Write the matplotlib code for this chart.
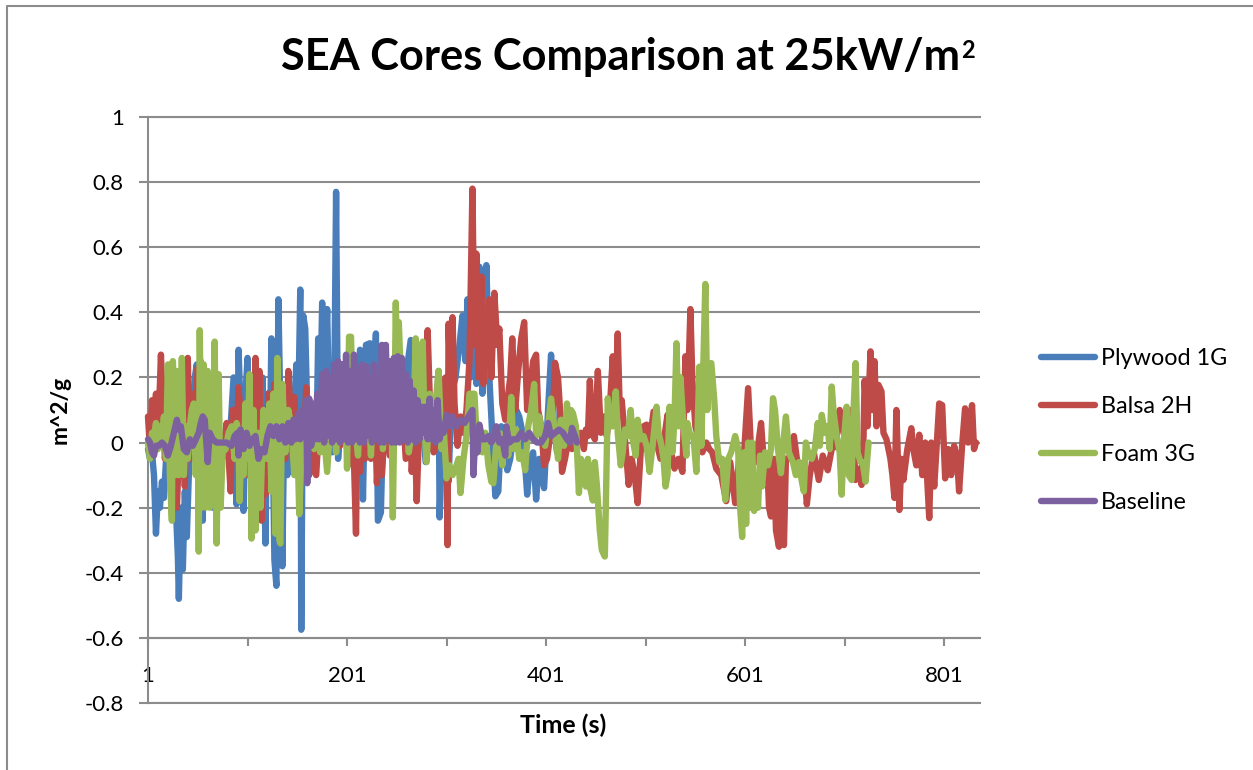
import matplotlib
matplotlib.use("Agg")
import matplotlib.pyplot as plt
from matplotlib.lines import Line2D

W, H = 1253, 770
plt.rcParams['font.family'] = ['Lato', 'DejaVu Sans']

title = "SEA Cores Comparison at 25kW/m"
title_sup = "2"
xlabel = "Time (s)"
ylabel = "m^2/g"
x_ticks = [1, 101, 201, 301, 401, 501, 601, 701, 801]
x_tick_labels = ["1", "", "201", "", "401", "", "601", "", "801"]
y_ticks = [-0.8, -0.6, -0.4, -0.2, 0, 0.2, 0.4, 0.6, 0.8, 1]
y_tick_labels = ["-0.8", "-0.6", "-0.4", "-0.2", "0", "0.2", "0.4", "0.6", "0.8", "1"]
names = ["Plywood 1G", "Balsa 2H", "Foam 3G", "Baseline"]
colors = ["#4A7EBB", "#BE4B48", "#98B954", "#7D60A0"]

plywood_t = [1,3,5,7,9,11,13,15,17,19,
             21,23,25,27,29,31,32,34,36,38,
             40,42,44,46,48,50,52,54,56,58,
             60,63,66,70,74,78,82,85,87,90,
             92,94,97,99,101,103,106,110,113,116,
             119,121,123,125,126,128,130,132,134,136,
             138,141,144,147,150,152,154,155,157,159,
             161,164,167,170,172,174,176,178,181,183,
             186,188,190,192,195,198,201,204,207,210,
             214,217,220,224,227,230,232,235,238,241,
             245,250,255,260,265,268,272,276,280,284,
             288,293,294,297,300,303,306,310,314,317,
             320,322,325,328,331,334,337,339,341,344,
             347,350,353,356,359,362,365,368,371,374,
             378,382,385,388,391,394,399,403,406,409,
             412,415]
plywood_v = [-.02,-.05,-.03,-.1,-.28,-.15,-.2,-.12,-.17,-.06,
             -.08,.05,-.1,.1,-.2,-.35,-.48,-.2,-.39,-.15,
             -.29,-.1,.05,.12,.2,.24,.1,.25,-.24,.22,
             -.1,.15,-.2,.05,-.05,.02,-.05,.1,.2,-.19,
             .285,.1,-.21,.15,.26,-.05,.1,.05,-.1,.2,
             -.31,.15,-.1,.32,.1,-.36,-.44,.44,.1,-.38,
             .1,-.1,.1,.05,.24,.1,.47,-.575,.39,.35,
             .1,.05,.12,-.05,.32,.1,.43,.1,.41,.1,
             -.03,.1,.77,-.05,.1,.03,.2,.1,.25,-.1,
             .285,-.175,.3,.305,.1,.335,-.24,-.215,.15,.05,
             .2,.1,.05,.2,.315,.1,.05,.1,-.06,.05,
             -.01,.22,-.23,.05,.1,-.12,.15,.2,.3,.39,
             .25,.44,.2,.3,.18,.54,.15,.3,.545,.2,
             .02,-.165,-.15,.05,-.02,-.085,-.05,.02,.1,.08,
             .02,-.16,-.05,-.03,-.175,-.05,-.14,.1,.27,.05,
             -.03,0]

balsa_t = [1,3,5,7,9,11,13,14,16,18,
           21,24,27,30,33,36,38,41,43,45,
           48,51,54,57,60,64,68,72,76,80,
           84,86,89,92,95,98,101,105,107,109,
           111,113,115,117,119,122,125,128,131,134,
           137,139,142,145,148,151,155,158,160,163,
           166,170,174,178,182,186,190,194,198,202,
           204,207,210,212,214,217,219,222,225,228,
           231,234,236,240,244,248,252,256,260,264,
           266,269,271,274,277,280,282,285,288,291,
           294,297,300,302,303,305,307,309,312,315,
           318,321,324,327,329,331,333,336,338,341,
           344,346,349,352,354,357,360,363,365,367,
           370,373,376,379,382,385,388,391,393,396,
           399,402,405,408,410,413,415,417,420,424,
           427,430,433,436,439,441,443,445,447,450,
           453,456,459,462,465,468,470,473,475,477,
           480,484,487,490,493,496,499,502,505,509,
           512,516,520,523,526,530,534,538,541,543,
           546,548,551,555,558,562,565,568,572,577,
           582,586,591,595,600,604,607,611,614,617,
           620,623,625,627,630,632,635,637,640,642,
           645,648,650,653,656,660,663,666,670,675,
           679,684,688,692,696,699,703,708,712,716,
           718,720,721,724,727,729,731,733,735,738,
           740,743,747,749,751,753,756,758,760,764,
           768,770,773,776,779,782,786,788,791,796,
           799,802,805,808,811,814,816,819,822,825,
           829,831,833]
balsa_v = [.08,-.02,.13,.05,.15,.02,.18,.27,.1,-.05,
           .08,.02,-.1,-.2,.05,.1,-.135,.26,-.05,.15,
           .05,.23,.1,-.1,.05,-.08,.1,.02,-.03,.06,
           -.15,.1,-.05,.17,.05,.1,-.1,.15,-.2,.26,
           .05,.22,-.24,.1,-.16,.15,.05,.18,-.1,.12,
           .02,-.05,.22,.03,.14,-.03,.08,.02,.17,-.1,
           .05,-.1,.12,.05,-.03,.1,.05,-.01,.15,-.07,
           .25,.05,-.28,.2,-.09,.1,-.05,.15,-.05,.2,
           -.125,.1,-.1,.1,-.04,.1,.05,.15,-.05,.1,
           -.09,.05,-.18,.1,.05,.2,.345,.05,-.03,.03,
           .1,.02,.2,-.315,.365,.15,.385,.12,-.01,.08,
           .03,.1,.25,.78,.3,.58,.2,.51,.18,.32,
           .44,.2,.46,.3,.35,.12,.07,.15,.2,.32,
           .1,.22,.32,.37,.1,.17,.25,.27,.1,.05,
           -.07,-.05,.02,.1,.245,.2,.1,-.09,-.05,.02,
           -.02,.03,.01,.03,-.02,.04,.02,.19,.03,.01,
           .22,.03,.08,.02,.1,.265,.06,.335,.1,.13,
           .02,-.13,-.05,-.1,-.186,-.03,.05,.055,.0,.095,
           .0,-.05,.02,.085,-.02,-.08,-.05,-.09,.265,.1,
           .41,.19,.05,.0,-.03,.0,-.02,-.03,-.08,-.1,
           -.18,-.06,-.186,-.05,-.03,.167,-.03,-.06,-.01,.06,
           -.07,-.05,-.2,-.227,-.05,-.27,-.32,-.08,-.315,-.05,
           -.05,-.02,.02,-.05,-.08,-.06,-.19,-.1,-.03,-.115,
           -.04,-.085,-.02,-.01,.10,.05,-.02,.1,-.115,-.08,
           -.13,.02,.19,.05,.28,.1,.25,.05,.177,.157,
           .03,.01,-.05,-.1,-.17,.10,-.207,-.05,-.115,-.02,
           .044,-.02,-.07,.024,-.10,.0,-.232,.0,-.135,.12,
           .115,-.11,-.02,-.10,-.01,-.05,-.15,-.01,.105,.0,
           .115,-.02,0]

foam_t = [1,3,5,7,9,11,13,15,17,19,
          21,23,25,26,28,30,32,34,35,37,
          39,41,43,45,47,49,51,52,53,55,
          57,59,61,63,65,67,68,70,72,74,
          76,79,82,85,88,90,92,93,95,97,
          99,101,103,105,107,109,111,114,117,120,
          123,125,127,129,131,133,134,136,139,142,
          145,148,151,153,156,159,162,165,168,171,
          174,177,179,181,184,187,190,193,196,199,
          201,203,205,207,209,212,214,217,220,223,
          225,228,231,234,237,240,243,246,247,249,
          250,252,253,255,258,260,263,266,268,270,
          272,274,277,279,281,284,287,290,293,296,
          298,301,304,307,310,313,315,318,321,324,
          326,329,331,334,337,340,343,346,348,351,
          354,357,360,363,366,368,371,374,377,380,
          383,386,389,391,394,397,400,403,406,408,
          410,413,416,419,422,424,426,428,431,434,
          436,438,441,443,445,448,450,452,455,457,
          460,461,463,465,468,471,473,476,478,480,
          483,486,488,491,493,496,499,502,505,508,
          512,514,517,519,521,523,525,528,530,532,
          534,536,538,540,542,543,546,549,552,555,
          557,559,561,563,565,567,570,572,575,578,
          581,584,587,591,594,596,598,600,602,604,
          606,608,610,612,614,616,618,621,624,627,
          629,631,634,637,640,642,645,649,652,655,
          658,660,662,665,668,671,674,676,678,681,
          684,686,688,690,693,696,698,700,703,705,
          708,710,712,714,717,719,722,725]
foam_v = [0,-.05,.03,.02,.06,-.02,.05,.02,.08,-.05,
          .24,-.1,-.24,.25,-.1,.22,-.1,.1,.26,-.1,
          .05,-.05,.05,.1,.12,-.1,.1,-.335,.345,-.2,
          .24,-.2,.22,-.2,.2,-.1,.31,-.31,.21,-.2,
          -.03,-.02,.03,.05,-.05,.06,.03,-.18,.02,-.1,
          .12,-.05,.21,-.295,.1,-.27,.03,-.2,.1,-.05,
          .12,-.15,.15,-.28,.26,-.3,-.31,.18,-.03,.1,
          .05,-.1,.02,-.22,.05,.02,.1,.05,-.02,.08,
          -.03,.05,-.02,-.09,.05,.1,-.03,.12,.05,.2,
          -.08,.325,.325,.05,.05,-.04,.08,.1,.2,.1,
          -.04,.15,.05,.2,-.02,.1,.22,.05,-.23,.18,
          .43,.1,.37,.2,.05,.1,-.03,.03,.1,.32,
          .1,.05,.31,.03,-.06,.15,.03,.12,.22,-.02,
          .05,-.11,-.07,-.1,-.08,-.05,-.155,-.05,.02,.15,
          .15,.15,.03,.03,-.03,.03,-.07,-.12,-.125,.0,
          .03,-.07,.03,-.04,.14,-.02,.04,-.05,-.03,-.085,
          .05,.1,.18,.02,.08,.03,-.01,.05,.135,.08,
          .03,-.05,.07,-.01,.12,.02,.1,.09,.05,-.155,
          -.05,-.1,-.135,-.05,-.135,-.178,-.06,-.13,-.27,-.33,
          -.35,-.2,.136,.05,.05,.157,.03,-.07,-.03,.04,
          .02,.10,.01,-.04,.07,.01,.02,-.01,-.09,-.01,
          .11,.03,-.01,-.05,-.135,-.1,.11,-.03,.07,.305,
          .05,.2,.1,.02,-.04,.06,.02,.02,-.09,.233,
          -.01,.24,.487,.1,.24,.244,.13,.02,-.06,-.05,
          -.176,-.05,-.03,.02,-.02,-.2,-.29,-.03,-.25,0,
          -.2,0,-.21,-.1,-.2,-.04,-.135,-.03,-.07,-.02,
          .136,.1,-.02,-.094,.02,.08,-.03,-.06,-.10,-.06,
          -.12,-.15,0,-.04,-.05,-.02,.06,-.01,.085,.03,
          .05,-.02,.172,.09,.02,-.03,-.16,0,.11,-.1,
          -.115,.1,.244,-.03,-.06,-.06,-.12,0]

baseline_t = [1,3,5,7,9,12,15,18,21,24,
              27,30,32,34,37,40,43,46,49,52,
              54,56,58,61,63,66,70,75,80,85,
              88,91,92,94,97,100,103,106,109,112,
              115,118,121,124,127,130,133,136,139,142,
              145,147,149,152,154,156,158,160,161,163,
              165,167,169,171,173,175,176,178,180,182,
              184,186,188,190,192,194,196,198,200,202,
              204,206,208,210,212,214,216,218,220,222,
              224,226,228,230,232,234,236,238,240,242,
              244,246,248,250,252,254,256,258,260,262,
              264,266,268,270,272,274,276,278,280,282,
              284,286,288,290,292,294,296,298,301,304,
              307,311,315,319,323,327,328,330,332,334,
              337,340,343,346,348,351,354,357,360,361,
              364,368,372,376,380,384,388,392,396,400,
              403,406,410,414,418,422,425,427,430,432]
baseline_v = [.01,.0,-.03,-.04,-.01,-.01,.0,-.01,-.04,-.01,
              .03,.07,.04,.05,-.02,-.03,.01,-.01,.01,.03,
              .06,.08,.07,-.06,.03,.01,.0,0,.0,-.01,
              .02,.03,-.04,.04,-.02,.03,-.01,.01,.02,-.05,
              -.02,-.03,.02,.05,.02,.05,.01,.05,0,.06,
              0,.07,.01,.09,.01,.1,.02,.13,-.125,.135,
              -.01,.11,.01,.15,.01,.13,.21,.0,.22,.02,
              .2,.0,.24,.01,.25,.0,.24,.01,.27,0,
              .22,.0,.27,.01,.23,0,.24,.0,.235,.02,
              .2,0,.24,.01,.2,0,.3,0,.3,.01,
              .25,0,.26,0,.265,0,.26,.01,.21,0,
              .19,.01,.16,0,.13,.01,.11,.03,.11,.01,
              .135,.01,.1,.0,.13,.01,.05,.03,.085,.05,
              .08,.05,.07,.06,.08,.1,-.1,.03,-.03,.055,
              .01,.01,.02,.0,.01,.05,.0,.01,-.04,.05,
              .0,.01,.01,.03,.01,.03,.01,.0,.0,.02,
              .06,.02,.03,.04,.03,.01,.0,.045,.02,0]

series_t = [plywood_t, balsa_t, foam_t, baseline_t]
series_v = [plywood_v, balsa_v, foam_v, baseline_v]

GRID = "#8C8C8C"
fig = plt.figure(figsize=(W / 100, H / 100), dpi=100, facecolor="white")
ax = fig.add_axes([148 / W, 1 - 703 / H, (980 - 148) / W, (703 - 117) / H])

for t, v, c, n in zip(series_t, series_v, colors, names):
    ax.plot(t, v, color=c, lw=4.6, label=n, solid_joinstyle="round",
            solid_capstyle="round", zorder=3, clip_on=False)

ax.set_xlim(1, 837)
ax.set_ylim(-0.8, 1)
ax.set_yticks(y_ticks)
ax.set_yticklabels(y_tick_labels)
ax.set_xticks(x_ticks)
ax.set_xticklabels(x_tick_labels)
ax.grid(axis="y", color=GRID, lw=1.5, zorder=1)
ax.set_axisbelow(True)

for s in ["top", "right"]:
    ax.spines[s].set_visible(False)
ax.spines["left"].set_color(GRID)
ax.spines["left"].set_linewidth(1.5)
ax.spines["bottom"].set_color(GRID)
ax.spines["bottom"].set_linewidth(1.5)
ax.spines["bottom"].set_position(("data", -0.6))
ax.axhline(-0.8, color=GRID, lw=1.5, clip_on=False, zorder=1)
ax.axhline(1, color=GRID, lw=1.5, clip_on=False, zorder=1)

ax.tick_params(axis="y", length=6.5, width=1.5, color=GRID, labelsize=16, pad=11, labelcolor="black")
ax.tick_params(axis="x", length=6, width=1.5, color=GRID, labelsize=16, pad=14, labelcolor="black")

fig.text(281 / W, 1 - 70 / H, title, fontsize=31.2, fontweight="bold", ha="left", va="baseline")
fig.text(961 / W, 1 - 58 / H, title_sup, fontsize=17, fontweight="bold", ha="left", va="baseline")
fig.text(563.5 / W, 1 - 725 / H, xlabel, fontsize=18, fontweight="bold", ha="center", va="center")
fig.text(60 / W, 1 - 410 / H, ylabel, fontsize=16.5, fontweight="bold", ha="center", va="center", rotation=90)

fig.legend(loc="upper left", bbox_to_anchor=(1034 / W, 1 - 341 / H), frameon=False,
           fontsize=16.8, handlelength=2.3, handletextpad=0.28, labelspacing=1.16,
           borderpad=0.3, borderaxespad=0)

fig.add_artist(Line2D([7 / W, 7 / W, 1], [0, 1 - 5.5 / H, 1 - 5.5 / H],
                      transform=fig.transFigure, color=GRID, lw=1.5))

fig.savefig("out.png", dpi=100, facecolor="white")
